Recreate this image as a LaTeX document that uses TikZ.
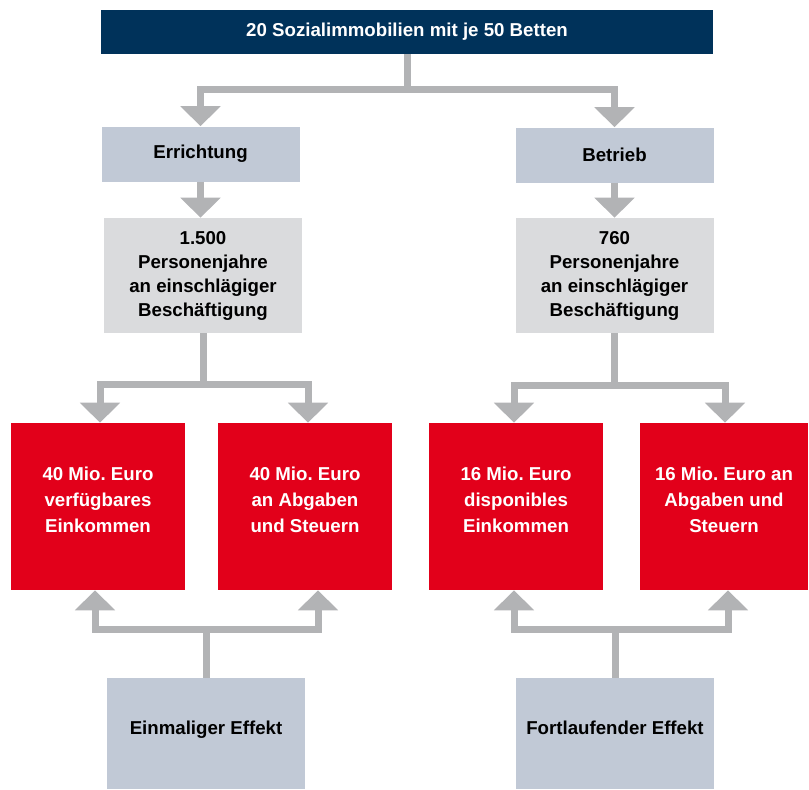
\documentclass[tikz,border=0pt]{standalone}
\usepackage{fontspec}
\setmainfont{Liberation Sans}
\usetikzlibrary{arrows.meta,calc}
\definecolor{navyblue}{RGB}{0,50,90}
\definecolor{bluegrey}{RGB}{193,201,214}
\definecolor{lightgrey}{RGB}{218,219,221}
\definecolor{signalred}{RGB}{226,0,26}
\definecolor{arrowgrey}{RGB}{178,179,181}
\frenchspacing
\begin{document}
\begin{tikzpicture}[x=0.75pt,y=0.75pt,yscale=-1,xscale=1,
  box/.style={inner sep=0pt, align=center, font=\bfseries\fontsize{14}{18}\selectfont},
  headbox/.style={box, fill=navyblue, text=white, minimum width=612*0.75pt, minimum height=44*0.75pt},
  phasebox/.style={box, fill=bluegrey, minimum width=198*0.75pt, minimum height=55*0.75pt},
  jobbox/.style={box, fill=lightgrey, minimum width=198*0.75pt, minimum height=115*0.75pt},
  moneybox/.style={box, fill=signalred, text=white, font=\bfseries\fontsize{14}{19.5}\selectfont, text depth=10.5pt, minimum width=174*0.75pt, minimum height=167*0.75pt},
  effectbox/.style={box, fill=bluegrey, text depth=8pt, minimum width=198*0.75pt, minimum height=111*0.75pt},
  bar/.style={draw=arrowgrey, line width=7*0.75pt},
  flow/.style={bar, -{Triangle[width=39*0.75pt,length=20*0.75pt]}}]
\useasboundingbox (0,0) rectangle (809,789);
% Header
\node[headbox] (top) at (407,32) {20 Sozialimmobilien mit je 50 Betten};
% Phases
\node[phasebox] (err) at (200.5,154) {Errichtung};
\node[phasebox] (bet) at (614.5,155) {Betrieb};
% Person years
\node[jobbox] (pj1) at (203,275.5) {1.500\\Personenjahre\\an einschlägiger\\Beschäftigung};
\node[jobbox] (pj2) at (614.5,275.5) {760\\Personenjahre\\an einschlägiger\\Beschäftigung};
% Money boxes
\node[moneybox] (r1) at (98,506.5) {40 Mio. Euro\\verfügbares\\Einkommen};
\node[moneybox] (r2) at (305,506.5) {40 Mio. Euro\\an Abgaben\\und Steuern};
\node[moneybox] (r3) at (516,506.5) {16 Mio. Euro\\disponibles\\Einkommen};
\node[moneybox, minimum width=168*0.75pt] (r4) at (724,506.5) {16 Mio. Euro an\\Abgaben und\\Steuern};
% Effects
\node[effectbox] (b1) at (206,733.5) {Einmaliger Effekt};
\node[effectbox] (b2) at (615,733.5) {Fortlaufender Effekt};
% Header split
\draw[bar] (top.south) -- ++(0,35) coordinate (j0);
\draw[flow] (j0) -| (err.north);
\draw[flow] (j0) -| (bet.north);
% Phase to person years
\draw[flow] (err.south) -- (err.south |- pj1.north);
\draw[flow] (bet.south) -- (bet.south |- pj2.north);
% Person years split
\draw[bar] (pj1.south) -- ++(0,51.5) coordinate (j1);
\draw[flow] (j1) -| ($(r1.north)+(2,0)$);
\draw[flow] (j1) -| ($(r2.north)+(3,0)$);
\draw[bar] (pj2.south) -- ++(0,52.5) coordinate (j2);
\draw[flow] (j2) -| ($(r3.north)+(-2,0)$);
\draw[flow] (j2) -| ($(r4.north)+(1,0)$);
% Effects up
\draw[bar] (b1.north) -- ++(0,-48.5) coordinate (j3);
\draw[flow] (j3) -| ($(r1.south)+(-3,0)$);
\draw[flow] (j3) -| ($(r2.south)+(13,0)$);
\draw[bar] (b2.north) -- ++(0,-48.5) coordinate (j4);
\draw[flow] (j4) -| ($(r3.south)+(-2,0)$);
\draw[flow] (j4) -| ($(r4.south)+(4,0)$);
\end{tikzpicture}
\end{document}
